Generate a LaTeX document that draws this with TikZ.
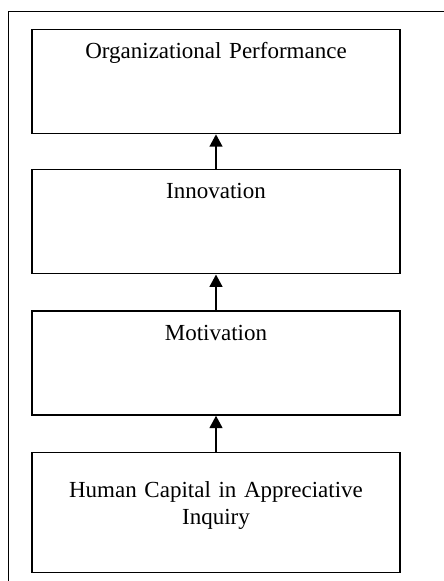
\documentclass[tikz,border=0pt]{standalone}
\usepackage{fontspec}
\setmainfont{Liberation Serif}
\usetikzlibrary{arrows.meta, positioning}

\begin{document}
\begin{tikzpicture}[
		x=1pt, y=1pt,
		node distance=35pt,
		every node/.style={font=\fontsize{23}{27}\selectfont},
		block/.style={draw, rectangle, line width=1.2pt, minimum width=368pt, inner sep=0pt, text width=340pt, align=center, text height=29pt, text depth=75pt},
		flow/.style={-{Triangle[length=12.5pt, width=12.5pt]}, line width=2.8pt},
		black
		]
		% page frame
		\useasboundingbox (0,0) rectangle (444,-581);
		\draw[line width=0.9pt] (444,-11) -- (8,-11) -- (8,-581);
		% blocks, top to bottom
		\node[block, anchor=north] at (216,-29) (perf) {Organizational Performance};
		\node[block, below = of perf] (innov) {Innovation};
		\node[block, below = of innov, yshift=-1pt] (motiv) {Motivation};
		\node[block, below = of motiv, yshift=-1pt, text height=45pt, text depth=75pt] (hcai) {Human Capital in Appreciative\\ Inquiry};
		% upward arrows
		\draw[flow] (innov) -- (perf);
		\draw[flow] (motiv) -- (innov);
		\draw[flow] (hcai) -- (motiv);
\end{tikzpicture}
\end{document}
